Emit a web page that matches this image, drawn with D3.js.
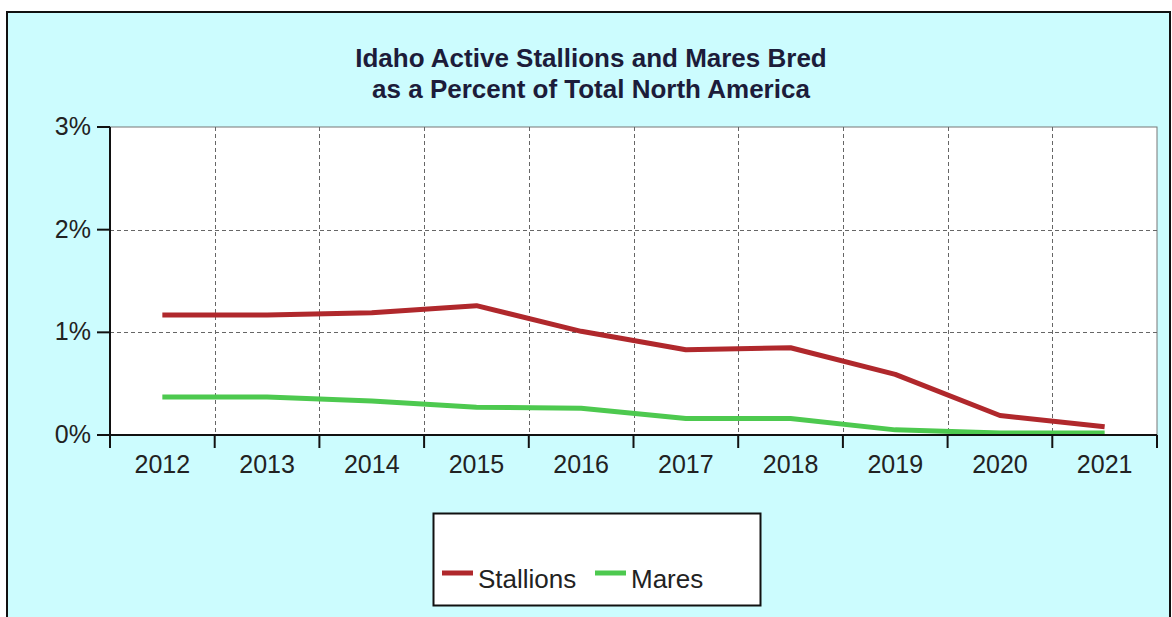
<!DOCTYPE html>
<html>
<head>
<meta charset="utf-8">
<script src="https://cdn.jsdelivr.net/npm/d3@7"></script>
<style>
  html, body { margin: 0; padding: 0; background: #ffffff; }
  svg { display: block; font-family: "Liberation Sans", Arial, sans-serif; }
</style>
</head>
<body>
<div id="chart"></div>
<script>
// chart data
const years = ["2012", "2013", "2014", "2015", "2016", "2017", "2018", "2019", "2020", "2021"];
const stallions = [1.17, 1.17, 1.19, 1.26, 1.01, 0.83, 0.85, 0.59, 0.19, 0.08];
const mares = [0.37, 0.37, 0.33, 0.27, 0.26, 0.16, 0.16, 0.05, 0.02, 0.02];
const yTicks = [0, 1, 2, 3];
const titleLines = ["Idaho Active Stallions and Mares Bred", "as a Percent of Total North America"];
const seriesNames = ["Stallions", "Mares"];
const seriesColors = ["#b0282c", "#4dc94f"];

function drawChart() {
    const width = 1172;
    const height = 617;
    const plot = { left: 110, right: 1157, top: 127, bottom: 435 };

    const svg = d3.select('#chart')
        .append('svg')
        .attr('width', width)
        .attr('height', height);

    // background panel
    svg.append('rect')
        .attr('x', 7).attr('y', 12)
        .attr('width', 1163).attr('height', 640)
        .attr('fill', '#ccfcfe')
        .attr('stroke', '#111')
        .attr('stroke-width', 2);

    svg.append('rect')
        .attr('x', plot.left).attr('y', plot.top)
        .attr('width', plot.right - plot.left)
        .attr('height', plot.bottom - plot.top)
        .attr('fill', '#ffffff')
        .attr('stroke', '#777')
        .attr('stroke-width', 1);

    const x = d3.scaleBand()
        .domain(years)
        .range([plot.left, plot.right]);

    const y = d3.scaleLinear()
        .domain([0, 3])
        .range([plot.bottom, plot.top]);

    // grid lines
    const grid = svg.append('g')
        .attr('stroke', '#666')
        .attr('stroke-width', 1)
        .attr('stroke-dasharray', '4,3');

    grid.selectAll('.vgrid')
        .data(years.slice(1))
        .enter()
        .append('line')
        .attr('x1', d => Math.round(x(d)) + 0.5)
        .attr('x2', d => Math.round(x(d)) + 0.5)
        .attr('y1', plot.top)
        .attr('y2', plot.bottom);

    grid.selectAll('.hgrid')
        .data([1, 2])
        .enter()
        .append('line')
        .attr('x1', plot.left)
        .attr('x2', plot.right)
        .attr('y1', d => Math.round(y(d)) + 0.5)
        .attr('y2', d => Math.round(y(d)) + 0.5);

    // lines
    const line = d3.line()
        .x((d, i) => x(years[i]) + x.bandwidth() / 2)
        .y(d => y(d));

    [stallions, mares].forEach((values, k) => {
        svg.append('path')
            .datum(values)
            .attr('d', line)
            .attr('fill', 'none')
            .attr('stroke', seriesColors[k])
            .attr('stroke-width', 5)
            .attr('stroke-linejoin', 'round');
    });

    // x axis
    const xAxis = svg.append('g')
        .attr('transform', `translate(0,${plot.bottom})`);

    xAxis.append('line')
        .attr('x1', plot.left).attr('x2', plot.right)
        .attr('y1', 0).attr('y2', 0)
        .attr('stroke', '#111').attr('stroke-width', 2);

    xAxis.selectAll('.xtick')
        .data(years.concat(['end']))
        .enter()
        .append('line')
        .attr('x1', (d, i) => i < years.length ? x(d) : plot.right)
        .attr('x2', (d, i) => i < years.length ? x(d) : plot.right)
        .attr('y1', 0).attr('y2', 13)
        .attr('stroke', '#111').attr('stroke-width', 2);

    xAxis.selectAll('.xlabel')
        .data(years)
        .enter()
        .append('text')
        .attr('x', d => x(d) + x.bandwidth() / 2)
        .attr('y', 38)
        .attr('text-anchor', 'middle')
        .attr('font-size', 25)
        .attr('fill', '#222')
        .text(d => d);

    // y axis
    const yAxis = svg.append('g');

    yAxis.append('line')
        .attr('x1', plot.left).attr('x2', plot.left)
        .attr('y1', plot.top).attr('y2', plot.bottom + 13)
        .attr('stroke', '#111').attr('stroke-width', 2);

    yAxis.selectAll('.ytick')
        .data(yTicks)
        .enter()
        .append('line')
        .attr('x1', plot.left - 13).attr('x2', plot.left)
        .attr('y1', d => y(d)).attr('y2', d => y(d))
        .attr('stroke', '#111').attr('stroke-width', 2);

    yAxis.selectAll('.ylabel')
        .data(yTicks)
        .enter()
        .append('text')
        .attr('x', plot.left - 19)
        .attr('y', d => y(d) + 8)
        .attr('text-anchor', 'end')
        .attr('font-size', 25)
        .attr('fill', '#222')
        .text(d => d + '%');

    // title
    svg.selectAll('.title')
        .data(titleLines)
        .enter()
        .append('text')
        .attr('x', 591)
        .attr('y', (d, i) => 67 + i * 31)
        .attr('text-anchor', 'middle')
        .attr('font-size', 26)
        .attr('font-weight', 'bold')
        .attr('fill', '#1c1c3a')
        .text(d => d);

    // legend
    const legend = svg.append('g');
    legend.append('rect')
        .attr('x', 433.5).attr('y', 513.5)
        .attr('width', 327).attr('height', 92)
        .attr('fill', '#ffffff')
        .attr('stroke', '#111')
        .attr('stroke-width', 2);

    const legendX = [442, 595];
    seriesNames.forEach((name, k) => {
        legend.append('line')
            .attr('x1', legendX[k]).attr('x2', legendX[k] + 31)
            .attr('y1', 573).attr('y2', 573)
            .attr('stroke', seriesColors[k])
            .attr('stroke-width', 5);
        legend.append('text')
            .attr('x', legendX[k] + 36)
            .attr('y', 588)
            .attr('font-size', 26)
            .attr('fill', '#222')
            .text(name);
    });
}

window.addEventListener('DOMContentLoaded', drawChart);
</script>
</body>
</html>
